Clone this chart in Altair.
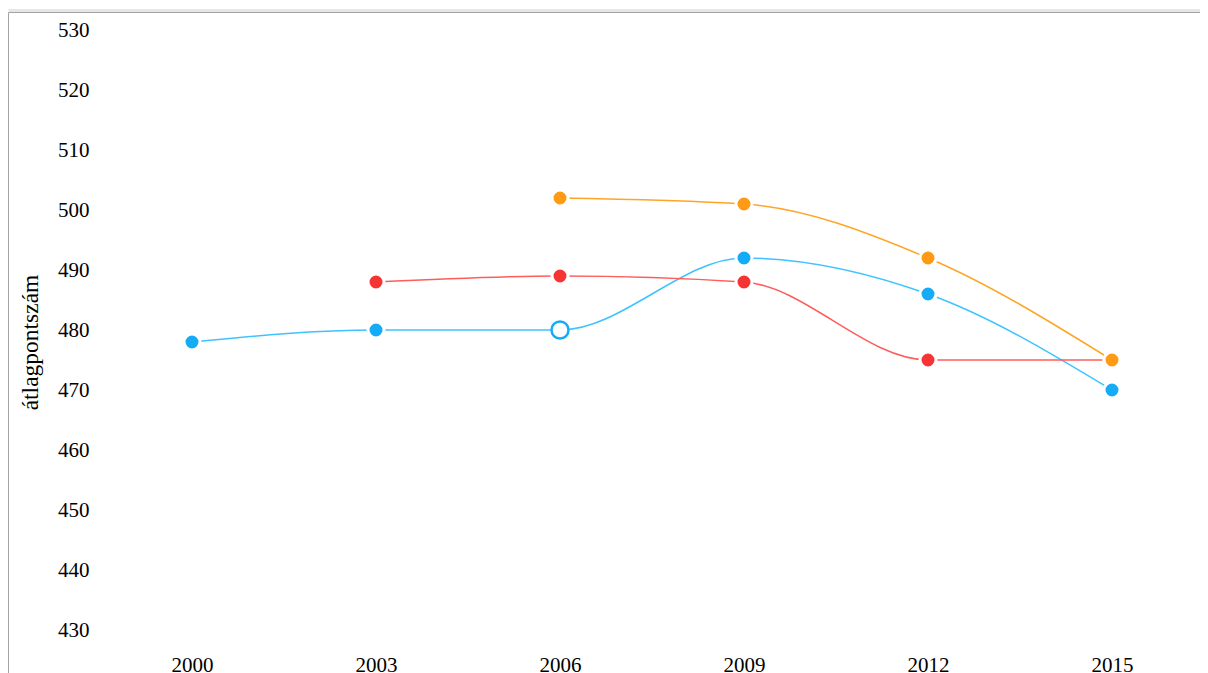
import altair as alt
import pandas as pd

# ---- data ----
years = [2000, 2003, 2006, 2009, 2012, 2015]
series_names = ["szövegértés", "matematika", "természettudomány"]
blue_vals = [478, 480, 480, 492, 486, 470]
red_vals = [None, 488, 489, 488, 475, 475]
orange_vals = [None, None, 502, 501, 492, 475]
y_ticks = [430, 440, 450, 460, 470, 480, 490, 500, 510, 520, 530]

line_colors = ["#3ec3ff", "#ff5c5c", "#ffa526"]
point_colors = ["#15abf7", "#f73434", "#ff9a14"]

rows = []
for name, vals in zip(series_names, [blue_vals, red_vals, orange_vals]):
    for yr, v in zip(years, vals):
        if v is not None:
            rows.append({"ev": yr, "pont": v, "sorozat": name})
df = pd.DataFrame(rows)

PAD_L, PAD_T = 98, 22
W, H = 1092, 600
FONT = "Liberation Serif"

x_enc = alt.X(
    "ev:O",
    scale=alt.Scale(type="point", padding=86 / 184),
    axis=alt.Axis(labelAngle=0, ticks=False, domain=False, title=None,
                  labelPadding=24, grid=False),
)
y_enc = alt.Y(
    "pont:Q",
    scale=alt.Scale(domain=[430, 530], nice=False, zero=False),
    axis=alt.Axis(values=y_ticks, ticks=False, domain=False, grid=False,
                  labelPadding=17, title="átlagpontszám",
                  titleX=-69, titleY=312, titleAngle=-90,
                  titleAlign="center", titleBaseline="alphabetic"),
)

base = alt.Chart(df)

lines = base.mark_line(interpolate="monotone", strokeWidth=1.5).encode(
    x=x_enc, y=y_enc,
    color=alt.Color("sorozat:N", scale=alt.Scale(domain=series_names, range=line_colors), legend=None),
)

points = base.mark_circle(size=256, stroke="white", strokeWidth=3, opacity=1).encode(
    x=x_enc, y=y_enc,
    fill=alt.Fill("sorozat:N", scale=alt.Scale(domain=series_names, range=point_colors), legend=None),
)

highlight = base.transform_filter(
    (alt.datum.sorozat == series_names[0]) & (alt.datum.ev == 2006)
).mark_circle(size=289, fill="white", stroke=point_colors[0], strokeWidth=2.5, opacity=1).encode(
    x=x_enc, y=y_enc,
)

one = pd.DataFrame({"k": [0]})
fx = -PAD_L + 0.5
fy = -(PAD_T - 5) - 0.5
frame_shadow = alt.Chart(one).mark_rule(color="#e6e6e6", strokeWidth=3).encode(
    x=alt.value(fx), x2=alt.value(W + 20), y=alt.value(fy - 2)
)
frame_top = alt.Chart(one).mark_rule(color="#a3a3a3", strokeWidth=1).encode(
    x=alt.value(fx), x2=alt.value(W + 20), y=alt.value(fy)
)
frame_left = alt.Chart(one).mark_rule(color="#a3a3a3", strokeWidth=1).encode(
    x=alt.value(fx), y=alt.value(fy), y2=alt.value(H + 60)
)

chart = alt.layer(frame_shadow, frame_top, frame_left, lines, points, highlight).properties(
    width=W, height=H,
    autosize=alt.AutoSizeParams(type="none"),
    padding={"left": PAD_L, "top": PAD_T, "right": 2, "bottom": 43},
    background="white",
).configure_view(stroke=None).configure_axis(
    labelFont=FONT, labelFontSize=21, labelColor="#000",
    titleFont=FONT, titleFontSize=23.5, titleFontWeight="normal", titleColor="#000",
)

chart.save("out.html", embed_options={"renderer": "svg", "actions": False})
